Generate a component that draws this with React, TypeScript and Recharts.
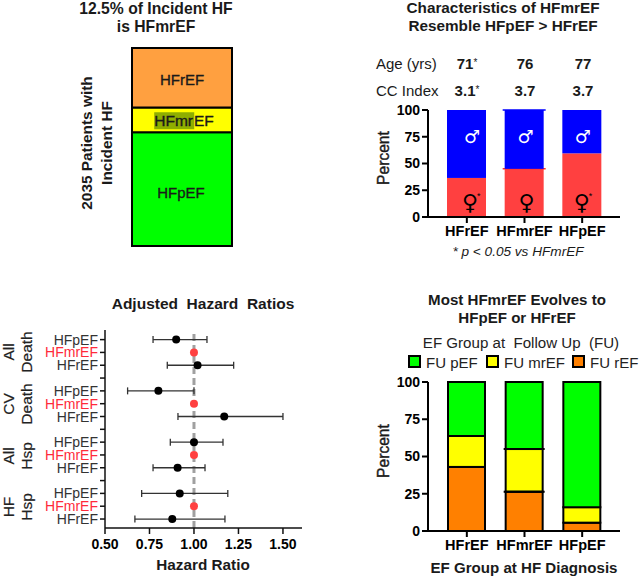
import { BarChart, Bar, XAxis, YAxis, ScatterChart, Scatter, ErrorBar, ReferenceLine, LabelList } from "recharts";

const ARIAL = "'Liberation Sans', Arial, sans-serif";
const INK = "#1a1a1a";

// Incident HF share
const incidentShares = [{ name: "Incident", preserved: 57.5, midrange: 12.5, reduced: 30 }];

// Characteristics panel
const charGroups = ["HFrEF", "HFmrEF", "HFpEF"];
const femalePct = [36.5, 45, 59.5];
const malePct = [63.5, 55, 40.5];
const ageValues = ["71", "76", "77"];
const ccValues = ["3.1", "3.7", "3.7"];
const ageStars = [true, false, false];
const ccStars = [true, false, false];
const femaleStars = [true, false, true];
const charData = charGroups.map((name, i) => ({ name, female: femalePct[i], male: malePct[i] }));

// Hazard ratios: row, estimate, low, high
const rowLabels = ["HFpEF", "HFmrEF", "HFrEF"];
const rowTicks = [1, 2, 3, 4, 5, 6, 7, 8, 9, 10, 11, 12, 13, 14, 15];
const peerRows = [1, 3, 5, 7, 9, 11, 13, 15];
const peerEstimates = [0.9, 1.02, 0.8, 1.17, 1.0, 0.908, 0.92, 0.878];
const peerLows = [0.77, 0.85, 0.627, 0.91, 0.867, 0.77, 0.706, 0.668];
const peerHighs = [1.073, 1.223, 1.0, 1.5, 1.163, 1.062, 1.19, 1.174];
const baseRows = [2, 6, 10, 14];
const hrTicks = [0.5, 0.75, 1, 1.25, 1.5];
const peerData = peerRows.map((row, i) => ({
  row,
  hr: peerEstimates[i],
  err: [peerEstimates[i] - peerLows[i], peerHighs[i] - peerEstimates[i]],
}));
const baseData = baseRows.map((row) => ({ row, hr: 1 }));

const hrGroups = [
  { top: "All", bottom: "Death", y: 352 },
  { top: "CV", bottom: "Death", y: 404 },
  { top: "All", bottom: "Hsp", y: 456 },
  { top: "HF", bottom: "Hsp", y: 507 },
];

// Follow up panel
const fuGroups = ["HFrEF", "HFmrEF", "HFpEF"];
const fuReduced = [43, 26.4, 5.6];
const fuMid = [20.8, 28.6, 10.4];
const fuPreserved = [36.2, 45, 84];
const fuData = fuGroups.map((name, i) => ({ name, reduced: fuReduced[i], midrange: fuMid[i], preserved: fuPreserved[i] }));
const fuLegend = [
  { label: "FU pEF", color: "#00ff00", x: 408, textX: 426 },
  { label: "FU mrEF", color: "#ffff00", x: 486, textX: 504 },
  { label: "FU rEF", color: "#ff8000", x: 572, textX: 590 },
];

const pctTicks = [0, 25, 50, 75, 100];
const axisLine = { stroke: "#000", strokeWidth: 2 };
const thinLine = { stroke: "#111", strokeWidth: 1.5 };
const boldTick = { fill: "#000", fontSize: 14, fontWeight: 700, fontFamily: ARIAL };

const Txt = ({ x, y, children, size = 14, bold = false, color = INK, rotate = false, italic = false, anchor = "center", heavy = 0 }: any) => (
  <div
    style={{
      position: "absolute",
      left: x,
      top: y,
      transform:
        (anchor === "center" ? "translate(-50%,-50%)" : "translate(0,-50%)") + (rotate ? " rotate(-90deg)" : ""),
      fontFamily: ARIAL,
      fontSize: size,
      fontWeight: bold ? 700 : 400,
      fontStyle: italic ? "italic" : "normal",
      color,
      whiteSpace: "pre",
      lineHeight: 1,
      WebkitTextStroke: heavy ? `${heavy}px ${color}` : undefined,
    }}
  >
    {children}
  </div>
);

const Star = () => <span style={{ fontSize: 10, fontWeight: 400, verticalAlign: 3 }}>*</span>;

const SexLabel = (props: any) => {
  const { x, y, width, height, index, symbol, fill, female } = props;
  const nudge = female ? [3.5, 2.5, 0] : [5.5, 1.5, 1];
  const cx = x + width / 2 + nudge[index];
  const cy = female ? y + height - 15 : y + 26;
  return (
    <g>
      <text x={cx} y={cy} textAnchor="middle" dominantBaseline="central" fontFamily="DejaVu Sans" fontSize={female ? 22 : 18} fontWeight={female ? 400 : 700} fill={fill}>
        {symbol}
      </text>
      {female && femaleStars[index] && (
        <text x={cx + 7} y={cy - 3} fontFamily={ARIAL} fontSize={9} fill="#000">*</text>
      )}
    </g>
  );
};

// middle bar edges poke out past the bar sides in the original
const EdgeBar = (props: any) => {
  const { x, y, width, height, fill, stroke, strokeWidth, index, edge, both } = props;
  return (
    <g>
      <rect x={x} y={y} width={width} height={height} fill={fill} stroke={stroke} strokeWidth={strokeWidth} />
      {index === 1 && <line x1={x - 2} x2={x + width + 2} y1={y} y2={y} stroke={edge} strokeWidth={strokeWidth || 1.5} />}
      {index === 1 && both && <line x1={x - 2} x2={x + width + 2} y1={y + height} y2={y + height} stroke={edge} strokeWidth={strokeWidth || 1.5} />}
    </g>
  );
};

const RowTick = ({ x, y, payload }: any) => {
  const k = (payload.value - 1) % 4;
  if (k === 3) return null;
  return (
    <text x={x} y={y} dy={5} textAnchor="end" fontFamily={ARIAL} fontSize={14} fill={k === 1 ? "#ff2a3a" : "#333"}>
      {rowLabels[k]}
    </text>
  );
};

export default function App() {
  return (
    <div style={{ position: "absolute", left: 0, top: 0, width: 640, height: 577, background: "#fff", overflow: "hidden" }}>
      {/* Incident HF */}
      <Txt x={156} y={9} size={15.7} bold>12.5% of Incident HF</Txt>
      <Txt x={156} y={27} size={15.7} bold>is HFmrEF</Txt>
      <Txt x={87} y={143} size={15.4} bold rotate>2035 Patients with</Txt>
      <Txt x={107} y={143} size={15.4} bold rotate>Incident HF</Txt>
      <div style={{ position: "absolute", left: 131, top: 47 }}>
        <BarChart width={102} height={200} data={incidentShares} margin={{ top: 1, right: 1, bottom: 1, left: 1 }} barCategoryGap={0}>
          <XAxis dataKey="name" hide />
          <YAxis hide domain={[0, 100]} />
          <Bar dataKey="preserved" stackId="a" fill="#00ff00" stroke="#000" strokeWidth={2} isAnimationActive={false} />
          <Bar dataKey="midrange" stackId="a" fill="#ffff00" stroke="#000" strokeWidth={2} isAnimationActive={false} />
          <Bar dataKey="reduced" stackId="a" fill="#ffa040" stroke="#000" strokeWidth={2} isAnimationActive={false} />
        </BarChart>
      </div>
      <Txt x={182} y={79} size={15} heavy={0.35}>HFrEF</Txt>
      <Txt x={184} y={121} size={15.5} heavy={0.35}>
        <span style={{ background: "#8fae00", paddingRight: 1 }}>HFmr</span>EF
      </Txt>
      <Txt x={181} y={192} size={15} heavy={0.35}>HFpEF</Txt>

      {/* Characteristics */}
      <Txt x={503} y={8} size={15.3} bold>Characteristics of HFmrEF</Txt>
      <Txt x={503} y={26} size={15.3} bold>Resemble HFpEF &gt; HFrEF</Txt>
      <Txt x={376} y={63} size={15} anchor="start">Age (yrs)</Txt>
      <Txt x={376} y={90} size={15} anchor="start">CC Index</Txt>
      {ageValues.map((v, i) => (
        <Txt key={i} x={467 + i * 58} y={63} size={15} bold>
          {v}{ageStars[i] && <Star />}
        </Txt>
      ))}
      {ccValues.map((v, i) => (
        <Txt key={i} x={467 + i * 58} y={90} size={15} bold>
          {v}{ccStars[i] && <Star />}
        </Txt>
      ))}
      <div style={{ position: "absolute", left: 380, top: 100 }}>
        <BarChart width={250} height={165} data={charData} margin={{ top: 10, right: 10, bottom: 0, left: 0 }} barSize={39}>
          <XAxis
            dataKey="name"
            height={48}
            padding={{ left: 10, right: 9 }}
            axisLine={axisLine}
            tickLine={axisLine}
            tickSize={6}
            tickMargin={3}
            tick={{ ...boldTick, fontSize: 14.5 }}
            interval={0}
          />
          <YAxis
            width={48}
            domain={[0, 100]}
            ticks={pctTicks}
            axisLine={axisLine}
            tickLine={axisLine}
            tickSize={6}
            tick={boldTick}
          />
          <Bar dataKey="female" stackId="s" fill="#ff4040" isAnimationActive={false} shape={(p: any) => <EdgeBar {...p} edge="#ff3030" />}>
            <LabelList content={(p: any) => <SexLabel {...p} symbol="♀" fill="#000" female />} />
          </Bar>
          <Bar dataKey="male" stackId="s" fill="#0000ff" isAnimationActive={false} shape={(p: any) => <EdgeBar {...p} edge="#0000ff" />}>
            <LabelList content={(p: any) => <SexLabel {...p} symbol="♂" fill="#fff" />} />
          </Bar>
        </BarChart>
      </div>
      <Txt x={384} y={158} size={15.6} heavy={0.4} rotate>Percent</Txt>
      <Txt x={518} y={252} size={13.6} italic>* p &lt; 0.05 vs HFmrEF</Txt>

      {/* Hazard ratios */}
      <Txt x={203} y={304} size={15.5} bold>Adjusted  Hazard  Ratios</Txt>
      {hrGroups.map((g) => (
        <div key={g.top + g.y}>
          <Txt x={9} y={g.y} size={15.5} rotate color="#222" heavy={0.2}>{g.top}</Txt>
          <Txt x={27} y={g.y} size={15.5} rotate color="#222" heavy={0.2}>{g.bottom}</Txt>
        </div>
      ))}
      <div style={{ position: "absolute", left: 30, top: 325 }}>
        <ScatterChart width={280} height={233} margin={{ top: 5, right: 8, bottom: 0, left: 0 }}>
          <XAxis
            type="number"
            dataKey="hr"
            domain={[0.5, 1.607]}
            ticks={hrTicks}
            height={30}
            axisLine={thinLine}
            tickLine={thinLine}
            tickSize={6}
            tickMargin={5}
            tick={boldTick}
            tickFormatter={(v: number) => v.toFixed(2)}
            allowDataOverflow
          />
          <YAxis
            type="number"
            dataKey="row"
            reversed
            domain={[0.25, 15.7]}
            ticks={rowTicks}
            interval={0}
            width={75}
            axisLine={thinLine}
            tickLine={thinLine}
            tickSize={5}
            tick={<RowTick />}
            allowDataOverflow
          />
          <ReferenceLine x={1} stroke="#a0a0a0" strokeWidth={3} strokeDasharray="7 4" />
          <Scatter data={peerData} fill="#000" isAnimationActive={false} shape={(p: any) => <circle cx={p.cx} cy={p.cy} r={4} fill="#000" />}>
            <ErrorBar dataKey="err" direction="x" width={3.5} stroke="#333" strokeWidth={1.3} isAnimationActive={false} />
          </Scatter>
          <Scatter data={baseData} isAnimationActive={false} shape={(p: any) => <circle cx={p.cx} cy={p.cy} r={4} fill="#ff4040" />} />
        </ScatterChart>
      </div>
      <Txt x={203} y={565} size={15.3} bold>Hazard Ratio</Txt>

      {/* Follow up */}
      <Txt x={517} y={300} size={15.1} bold>Most HFmrEF Evolves to</Txt>
      <Txt x={517} y={318} size={15.1} bold>HFpEF or HFrEF</Txt>
      <Txt x={521} y={343} size={15.1} color="#222">EF Group at  Follow Up  (FU)</Txt>
      {fuLegend.map((l) => (
        <div key={l.label}>
          <div style={{ position: "absolute", left: l.x, top: 355, width: 9, height: 9, background: l.color, border: "2px solid #000" }} />
          <Txt x={l.textX} y={362} size={15} anchor="start" color="#222">{l.label}</Txt>
        </div>
      ))}
      <div style={{ position: "absolute", left: 380, top: 372 }}>
        <BarChart width={250} height={190} data={fuData} margin={{ top: 10, right: 10, bottom: 0, left: 0 }} barSize={37}>
          <XAxis
            dataKey="name"
            height={31}
            padding={{ left: 10, right: 9 }}
            axisLine={axisLine}
            tickLine={axisLine}
            tickSize={6}
            tickMargin={3}
            tick={{ ...boldTick, fontSize: 14.5 }}
            interval={0}
          />
          <YAxis
            width={48}
            domain={[0, 100]}
            ticks={pctTicks}
            axisLine={axisLine}
            tickLine={axisLine}
            tickSize={6}
            tick={boldTick}
          />
          <Bar dataKey="reduced" stackId="f" fill="#ff8000" stroke="#000" strokeWidth={2} isAnimationActive={false} />
          <Bar dataKey="midrange" stackId="f" fill="#ffff00" stroke="#000" strokeWidth={2} isAnimationActive={false} shape={(p: any) => <EdgeBar {...p} edge="#000" both />} />
          <Bar dataKey="preserved" stackId="f" fill="#00ff00" stroke="#000" strokeWidth={2} isAnimationActive={false} />
        </BarChart>
      </div>
      <Txt x={384} y={451} size={15.6} heavy={0.4} rotate>Percent</Txt>
      <Txt x={524} y={568} size={15.1} bold>EF Group at HF Diagnosis</Txt>
    </div>
  );
}
